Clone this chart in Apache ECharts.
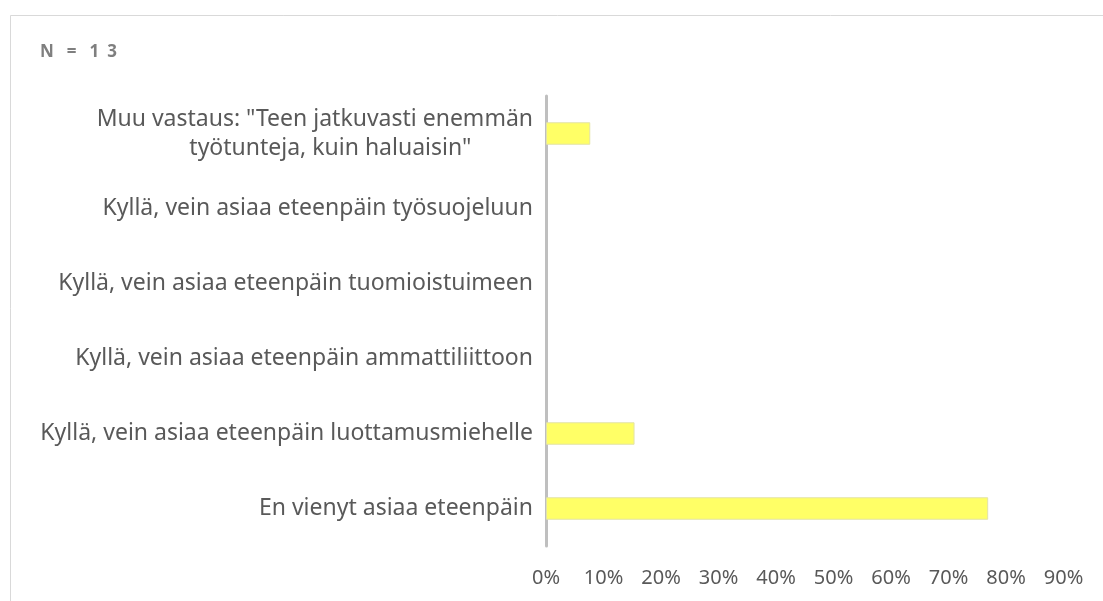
<!DOCTYPE html>
<html>
<head>
<meta charset="utf-8">
<script src="https://cdn.jsdelivr.net/npm/echarts@6/dist/echarts.min.js"></script>
<style>
  html, body { margin: 0; padding: 0; background: #fff; }
  #chart { width: 1103px; height: 601px; }
</style>
</head>
<body>
<div id="chart"></div>
<script>
// categories listed bottom to top, as the category axis draws them
const categories = [
  'En vienyt asiaa eteenpäin',
  'Kyllä, vein asiaa eteenpäin luottamusmiehelle',
  'Kyllä, vein asiaa eteenpäin ammattiliittoon',
  'Kyllä, vein asiaa eteenpäin tuomioistuimeen',
  'Kyllä, vein asiaa eteenpäin työsuojeluun',
  'Muu vastaus: "Teen jatkuvasti enemmän\ntyötunteja, kuin haluaisin"'
]
const shares = [76.9, 15.4, 0, 0, 0, 7.7]
const tickMax = 90
const tickStep = 10

const font = 'Noto Sans, sans-serif'
const chart = echarts.init(document.getElementById('chart'), null, { renderer: 'canvas' })

// wrapped labels: first line right aligned, second line roughly centred like Excel
function categoryLabel(value) {
  const lines = value.split('\n')
  if (lines.length === 1)
    return value
  return '{first|' + lines[0] + '}\n{second|' + lines[1] + '}'
}

chart.setOption({
  backgroundColor: '#fff',
  animation: false,
  title: {
    text: '{c|N} {c|=} {c|1}{c|3}',
    left: 31,
    top: 38,
    textStyle: {
      rich: {
        c: {
          fontFamily: font,
          fontSize: 17,
          fontWeight: 'bold',
          color: '#7f7f7f',
          padding: [0, 4]
        }
      }
    }
  },
  graphic: [{
    type: 'rect',
    left: 8,
    top: 13,
    shape: { width: 1300, height: 800 },
    style: { fill: 'none', stroke: '#d9d9d9', lineWidth: 1 },
    silent: true
  }],
  grid: {
    left: 546,
    right: 39.5,
    top: 96,
    bottom: 55
  },
  xAxis: {
    type: 'value',
    min: 0,
    max: tickMax,
    interval: tickStep,
    axisLine: { show: false },
    axisTick: { show: false },
    splitLine: { show: false },
    axisLabel: {
      formatter: '{value}%',
      margin: 22,
      fontFamily: font,
      fontSize: 20,
      color: '#595959'
    }
  },
  yAxis: {
    type: 'category',
    data: categories,
    axisLine: { lineStyle: { color: '#bfbfbf', width: 3 } },
    axisTick: { show: false },
    axisLabel: {
      margin: 13,
      fontFamily: font,
      fontSize: 23,
      lineHeight: 29,
      color: '#595959',
      formatter: categoryLabel,
      rich: {
        first: {
          fontFamily: font,
          fontSize: 23,
          lineHeight: 29,
          color: '#595959'
        },
        second: {
          fontFamily: font,
          fontSize: 23,
          lineHeight: 29,
          color: '#595959',
          align: 'center',
          padding: [0, 0, 0, 31]
        }
      }
    }
  },
  series: [{
    type: 'bar',
    data: shares.map(v => ({
      value: v,
      itemStyle: { borderWidth: v > 0 ? 1 : 0 }
    })),
    barWidth: '30%',
    itemStyle: {
      color: '#ffff66',
      borderColor: '#e3e3a8'
    }
  }]
})
</script>
</body>
</html>
